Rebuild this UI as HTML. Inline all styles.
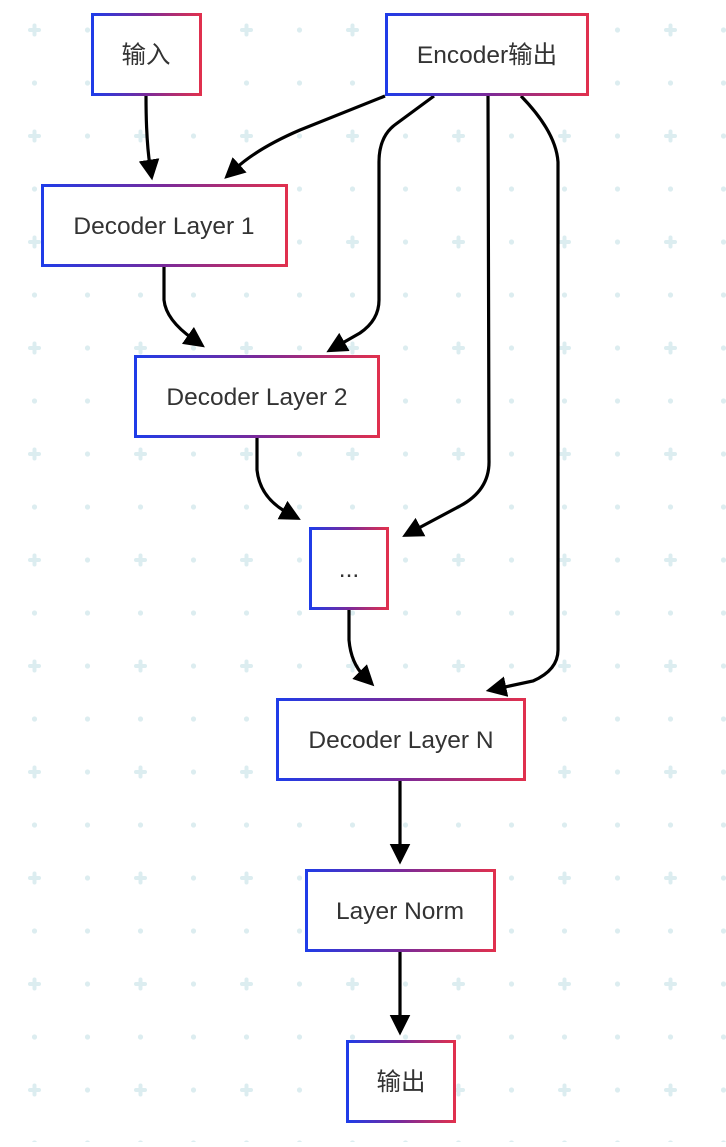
<!DOCTYPE html>
<html><head><meta charset="utf-8"><style>
html,body{margin:0;padding:0;background:#fff}
body{width:726px;height:1142px;overflow:hidden;font-family:"Liberation Sans","Noto Sans CJK SC",sans-serif}
</style></head><body>
<svg width="726" height="1142" viewBox="0 0 726 1142" xmlns="http://www.w3.org/2000/svg">
<defs>
<pattern id="g" x="7.5" y="3.5" width="106" height="106" patternUnits="userSpaceOnUse">
<g fill="#dcedf0">
<rect x="20.5" y="24.5" width="13" height="4" rx="2"/><rect x="25" y="20" width="4" height="13" rx="2"/>
<circle cx="80" cy="26.5" r="2.6"/>
<circle cx="27" cy="79.5" r="2.6"/>
<circle cx="80" cy="79.5" r="2.6"/>
</g>
</pattern>
<linearGradient id="bg" x1="0" x2="1" y1="0" y2="0"><stop offset="0" stop-color="#1f3ce8"/><stop offset="0.5" stop-color="#7a2a9a"/><stop offset="1" stop-color="#e0304e"/></linearGradient>
<marker id="a" viewBox="0 0 10 10" refX="3" refY="5" markerWidth="6.5" markerHeight="6.5" orient="auto" markerUnits="strokeWidth"><path d="M0,0 L10,5 L0,10 z" fill="#000"/></marker>
</defs>
<rect width="726" height="1142" fill="url(#g)"/>
<g fill="none" stroke="#000" stroke-width="3.2" marker-end="url(#a)">
<path d="M146,96 Q146,140 150,166"/>
<path d="M385,96 L300,130 Q258,148 235,169"/>
<path d="M434,96 L396,124 Q379,136 379,162 L379,300 Q379,320 360,333 L339,345"/>
<path d="M488,96 L489,460 Q490,490 460,506 L415,530"/>
<path d="M521,96 Q556,132 558,162 L558,650 Q558,670 533,681 L500,688"/>
<path d="M164,267 L164,300 Q166,320 193,339"/>
<path d="M257,438 L257,470 Q260,498 288,513"/>
<path d="M349,610 L349,640 Q351,663 364,676"/>
<path d="M400,781 L400,850"/>
<path d="M400,952 L400,1021"/>
</g>
<g fill="#fff" stroke="url(#bg)" stroke-width="3">
<rect x="92.5" y="14.5" width="108" height="80"/>
<rect x="386.5" y="14.5" width="201" height="80"/>
<rect x="42.5" y="185.5" width="244" height="80"/>
<rect x="135.5" y="356.5" width="243" height="80"/>
<rect x="310.5" y="528.5" width="77" height="80"/>
<rect x="277.5" y="699.5" width="247" height="80"/>
<rect x="306.5" y="870.5" width="188" height="80"/>
<rect x="347.5" y="1041.5" width="107" height="80"/>
</g>
<g font-size="24.5" fill="#333" text-anchor="middle" font-family="Liberation Sans,Noto Sans CJK SC,sans-serif">
<text x="146" y="63">输入</text>
<text x="487" y="63">Encoder输出</text>
<text x="164" y="234">Decoder Layer 1</text>
<text x="257" y="405">Decoder Layer 2</text>
<text x="349" y="577">...</text>
<text x="401" y="748">Decoder Layer N</text>
<text x="400" y="919">Layer Norm</text>
<text x="401" y="1090">输出</text>
</g>
</svg>
</body></html>
